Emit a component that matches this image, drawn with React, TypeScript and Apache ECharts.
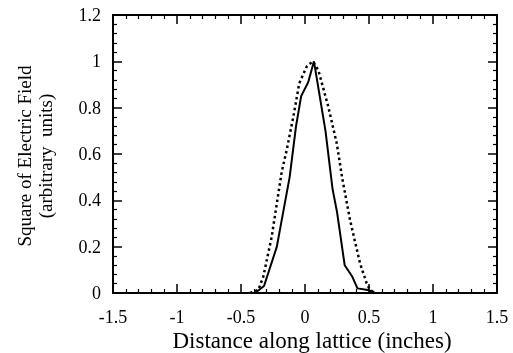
import React, { useEffect, useRef } from "react";
import * as echarts from "echarts";

const solidX = [-0.5, -0.39, -0.32, -0.22, -0.12, -0.07, -0.03, 0.025, 0.07, 0.16, 0.215, 0.25, 0.31, 0.37, 0.41, 0.49, 0.55];
const solidY = [0, 0, 0.03, 0.2, 0.5, 0.72, 0.85, 0.91, 1.0, 0.7, 0.45, 0.35, 0.12, 0.07, 0.02, 0.013, 0];

const dottedX = [-0.43, -0.365, -0.326, -0.26, -0.182, -0.143, -0.091, -0.045, 0.013, 0.06, 0.104, 0.182, 0.248, 0.291, 0.352, 0.43, 0.482, 0.508, 0.55];
const dottedY = [0, 0.013, 0.07, 0.243, 0.523, 0.617, 0.761, 0.905, 0.977, 1.0, 0.962, 0.804, 0.646, 0.495, 0.315, 0.128, 0.042, 0.013, 0];

const xTitle = "Distance along lattice (inches)";
const yTitle = "Square of Electric Field\n(arbitrary  units)";

const FONT = "'Liberation Serif', 'Times New Roman', serif";

export default function App() {
  const ref = useRef<HTMLDivElement>(null);
  useEffect(() => {
    if (!ref.current) return;
    const chart = echarts.init(ref.current, undefined, { renderer: "svg" });
    const axisLine = { show: true, onZero: false, lineStyle: { color: "#000", width: 2 } };
    const tick = { show: true, inside: true, length: 9, lineStyle: { color: "#000", width: 1.5 } };
    const minor = { show: true, splitNumber: 5, length: 4, lineStyle: { color: "#000", width: 1.2 } };
    const xBase = { type: "value", min: -1.5, max: 1.5, interval: 0.5, splitLine: { show: false }, axisLine, axisTick: tick, minorTick: minor };
    const yBase = { type: "value", min: 0, max: 1.2, interval: 0.2, splitLine: { show: false }, axisLine, axisTick: tick, minorTick: minor };
    chart.setOption({
      animation: false,
      grid: { left: 113, right: 16, top: 15, bottom: 60 },
      xAxis: [
        { ...xBase, position: "bottom", axisLabel: { color: "#000", fontFamily: FONT, fontSize: 18, margin: 15 } },
        { ...xBase, position: "top", axisLabel: { show: false } },
      ],
      yAxis: [
        { ...yBase, position: "left", axisLabel: { color: "#000", fontFamily: FONT, fontSize: 18, margin: 12 } },
        { ...yBase, position: "right", axisLabel: { show: false } },
      ],
      graphic: [
        {
          type: "text",
          x: 312,
          y: 340,
          style: { text: xTitle, fontFamily: FONT, fontSize: 23, fill: "#000", textAlign: "center", textVerticalAlign: "middle" },
        },
        {
          type: "text",
          x: 35,
          y: 156,
          rotation: Math.PI / 2,
          style: { text: yTitle, fontFamily: FONT, fontSize: 19, lineHeight: 21, fill: "#000", textAlign: "center", textVerticalAlign: "middle" },
        },
      ],
      series: [
        {
          type: "line",
          data: solidX.map((x, i) => [x, solidY[i]]),
          showSymbol: false,
          lineStyle: { color: "#000", width: 2 },
          xAxisIndex: 0,
          yAxisIndex: 0,
        },
        {
          type: "line",
          data: dottedX.map((x, i) => [x, dottedY[i]]),
          showSymbol: false,
          lineStyle: { color: "#000", width: 2.5, type: [2.5, 3] },
          xAxisIndex: 0,
          yAxisIndex: 0,
        },
      ],
    });
    return () => chart.dispose();
  }, []);
  return <div ref={ref} style={{ position: "fixed", left: 0, top: 0, width: 513, height: 353 }} />;
}
